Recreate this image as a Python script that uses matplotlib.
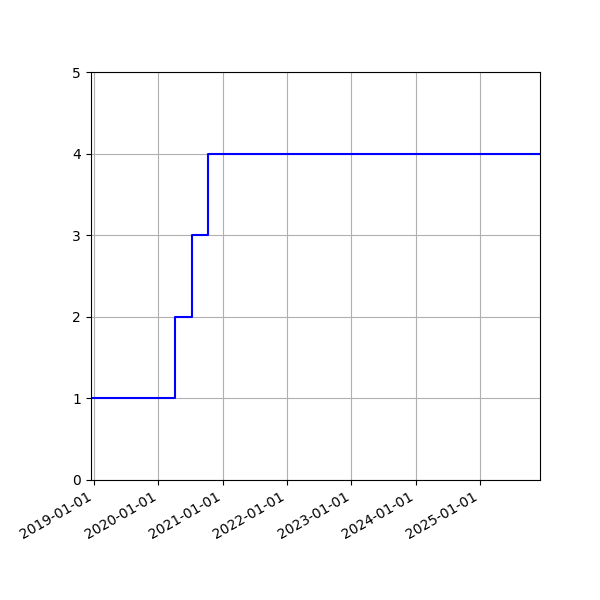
import numpy as np
import matplotlib
matplotlib.use('Agg')
import matplotlib.pyplot as plt
import matplotlib.dates as mdates

# dates where the count changes, plus the end of the series
dates = np.array(['2018-12-12', '2020-04-06', '2020-07-12', '2020-10-06', '2025-12-07'],
                 dtype='datetime64[D]')
counts = [1, 2, 3, 4, 4]

fig, ax = plt.subplots(figsize=(6, 6), dpi=100)
fig.subplots_adjust(left=0.151, right=0.9, top=0.88, bottom=0.2)

ax.step(dates, counts, 'b', where='post', linewidth=1.5)

ax.set_xlim(dates[0], dates[-1])
ax.set_ylim(0, 5)
ax.xaxis.set_major_locator(mdates.YearLocator())
ax.xaxis.set_major_formatter(mdates.DateFormatter('%Y-%m-%d'))
ax.grid()
fig.autofmt_xdate()

fig.savefig('out.png')
